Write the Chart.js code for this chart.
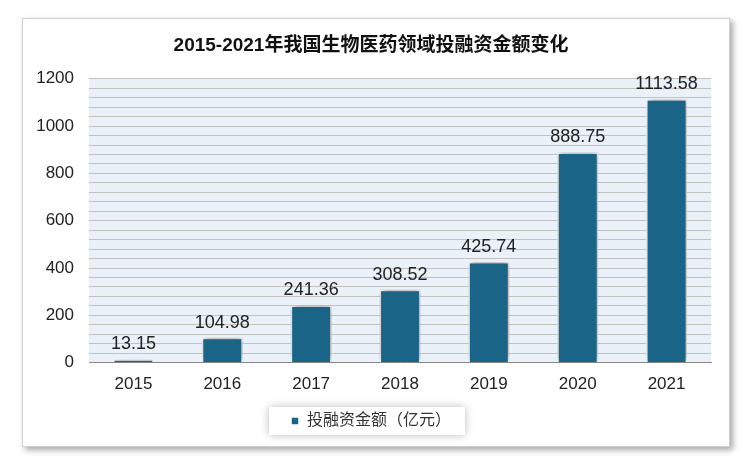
<!DOCTYPE html>
<html>
<head>
<meta charset="utf-8">
<script src="https://cdn.jsdelivr.net/npm/chart.js@4/dist/chart.umd.min.js"></script>
<style>
  body { margin: 0; background: #ffffff; }
  #frame {
    position: absolute; left: 22px; top: 18px; width: 706px; height: 427px;
    background: #fff; border: 1px solid #d0d0d0;
    box-shadow: 3px 3px 6px rgba(0,0,0,0.35);
  }
  canvas { display: block; }
</style>
</head>
<body>
<div id="frame"><canvas id="grafica" width="706" height="427"></canvas></div>
<script>
// datos
const anios = ['2015', '2016', '2017', '2018', '2019', '2020', '2021'];
const montos = [13.15, 104.98, 241.36, 308.52, 425.74, 888.75, 1113.58];
const tituloGrafica = '2015-2021年我国生物医药领域投融资金额变化';
const nombreSerie = '投融资金额（亿元）';

const fuente = '"Liberation Sans", "Noto Sans CJK SC", sans-serif';

// fondo del área de trazado
const fondoPlot = {
  id: 'fondoPlot',
  beforeDraw(chart) {
    const { ctx, chartArea: a } = chart;
    ctx.save();
    ctx.fillStyle = '#eaf1f8';
    ctx.fillRect(a.left, a.top, a.right - a.left, a.bottom - a.top);
    ctx.restore();
  }
};

// sombra de las barras
const sombraBarras = {
  id: 'sombraBarras',
  beforeDatasetsDraw(chart) {
    const ctx = chart.ctx;
    ctx.save();
    ctx.shadowColor = 'rgba(0,0,0,0.45)';
    ctx.shadowBlur = 7;
    ctx.shadowOffsetX = 1;
    ctx.shadowOffsetY = -1;
  },
  afterDatasetsDraw(chart) {
    chart.ctx.restore();
  }
};

// etiquetas de valor
const etiquetas = {
  id: 'etiquetas',
  afterDatasetsDraw(chart) {
    const ctx = chart.ctx;
    const meta = chart.getDatasetMeta(0);
    ctx.save();
    ctx.font = '18px ' + fuente;
    ctx.fillStyle = '#222';
    ctx.textAlign = 'center';
    ctx.textBaseline = 'bottom';
    meta.data.forEach((bar, i) => {
      ctx.fillText(montos[i].toFixed(2), bar.x, bar.y - 6);
    });
    ctx.restore();
  }
};

// caja de la leyenda (solo alrededor del item)
const cajaLeyenda = {
  id: 'cajaLeyenda',
  beforeDraw(chart) {
    const l = chart.legend;
    if (!l || !l.legendHitBoxes || !l.legendHitBoxes.length) return;
    const hb = l.legendHitBoxes[0];
    const ctx = chart.ctx;
    ctx.save();
    ctx.shadowColor = 'rgba(0,0,0,0.28)';
    ctx.shadowBlur = 9;
    ctx.fillStyle = '#fff';
    ctx.fillRect(hb.left - 22, hb.top + hb.height / 2 - 14, hb.width + 36, 28);
    ctx.restore();
  }
};

new Chart(document.getElementById('grafica'), {
  type: 'bar',
  data: {
    labels: anios,
    datasets: [{
      label: nombreSerie,
      data: montos,
      backgroundColor: '#1a6587',
      borderColor: '#ffffff',
      borderWidth: 1.5,
      barPercentage: 0.46,
      categoryPercentage: 1
    }]
  },
  options: {
    responsive: false,
    animation: false,
    layout: { padding: { top: 15, left: 8, right: 18, bottom: 7 } },
    scales: {
      x: {
        grid: { display: false },
        border: { color: '#888', width: 1 },
        ticks: { color: '#222', font: { family: fuente, size: 17 }, padding: 4 }
      },
      y: {
        min: 0, max: 1200,
        grid: { color: '#c2c2c2', lineWidth: 1, drawTicks: false },
        border: { display: false },
        afterFit(axis) { axis.width = 58; },
        ticks: {
          stepSize: 40,
          autoSkip: false,
          color: '#222',
          padding: 15,
          font: { family: fuente, size: 17 },
          callback: v => (v % 200 === 0 ? v : '')
        }
      }
    },
    plugins: {
      title: {
        display: true,
        text: tituloGrafica,
        color: '#111',
        font: { family: fuente, size: 19, weight: 'bold' },
        padding: { top: 0, bottom: 22 }
      },
      legend: {
        position: 'bottom',
        labels: {
          color: '#333',
          font: { family: fuente, size: 16 },
          boxWidth: 8, boxHeight: 8,
          padding: 14
        }
      },
      tooltip: { enabled: false }
    }
  },
  plugins: [fondoPlot, cajaLeyenda, sombraBarras, etiquetas]
});
</script>
</body>
</html>
